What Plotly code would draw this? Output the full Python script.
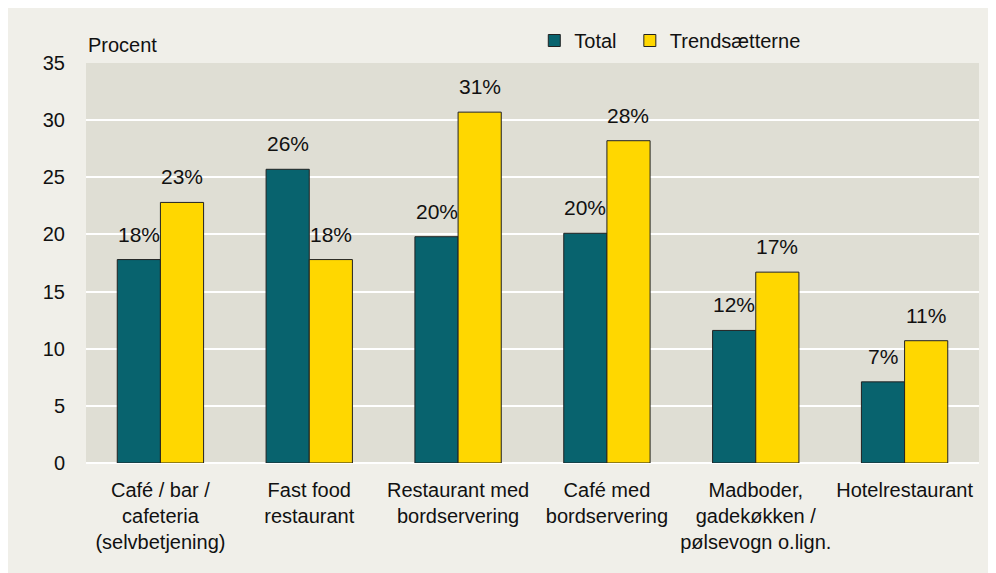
import plotly.graph_objects as go

categories = [
    "Café / bar /<br>cafeteria<br>(selvbetjening)",
    "Fast food<br>restaurant",
    "Restaurant med<br>bordservering",
    "Café med<br>bordservering",
    "Madboder,<br>gadekøkken /<br>pølsevogn o.lign.",
    "Hotelrestaurant",
]
total = [17.8, 25.7, 19.8, 20.1, 11.6, 7.1]
trendsaetterne = [22.8, 17.8, 30.7, 28.2, 16.7, 10.7]

TEAL = "#08636e"
YELLOW = "#ffd700"
FONT = "Liberation Sans, Arial, sans-serif"

fig = go.Figure()
series = [("Total", total, TEAL, "legend"), ("Trendsætterne", trendsaetterne, YELLOW, "legend2")]
for name, vals, col, leg in series:
    fig.add_trace(go.Bar(
        x=categories, y=vals, name=name, legend=leg,
        marker_color=col,
        marker_line_color="#222222", marker_line_width=1,
        hovertemplate="%{x}: %{y:.0f}%<extra>" + name + "</extra>",
    ))

# value labels sit a bit higher above the bars than plotly's "outside" text
for vals, shift in [(total, -21.5), (trendsaetterne, 21.5)]:
    for c, v in zip(categories, vals):
        fig.add_annotation(
            x=c, y=v, xref="x", yref="y",
            text=f"{v:.0f}%", showarrow=False,
            xshift=shift, yanchor="bottom", yshift=12,
            font=dict(family=FONT, size=21, color="#111111"),
        )

fig.add_annotation(
    xref="paper", yref="paper", x=0, y=1.045, xanchor="left", yanchor="middle",
    text="Procent", showarrow=False, font=dict(family=FONT, size=20, color="#111111"),
)

leg_style = dict(orientation="h", y=1.105, xanchor="left", yanchor="top",
                 bgcolor="rgba(0,0,0,0)", itemwidth=30,
                 font=dict(family=FONT, size=20))
fig.update_layout(
    width=996, height=573,
    margin=dict(l=78, r=25, t=55, b=118, autoexpand=False),
    paper_bgcolor="#f0efe9",
    plot_bgcolor="#dfded4",
    font=dict(family=FONT, size=20, color="#111111"),
    barmode="group", bargap=0.42, bargroupgap=0,
    showlegend=True,
    legend=dict(x=0.502, **leg_style),
    legend2=dict(x=0.609, **leg_style),
)
fig.update_yaxes(range=[0, 35], dtick=5, gridcolor="white", gridwidth=2,
                 zeroline=True, zerolinecolor="white", zerolinewidth=2,
                 showline=False, ticks="", ticklabelstandoff=20, automargin=False,
                 tickfont=dict(family=FONT, size=20), fixedrange=True)
fig.update_xaxes(showgrid=False, showline=False, ticks="", ticklabelstandoff=13,
                 tickangle=0, automargin=False,
                 tickfont=dict(family=FONT, size=20), fixedrange=True)

fig.write_html("out.html")
